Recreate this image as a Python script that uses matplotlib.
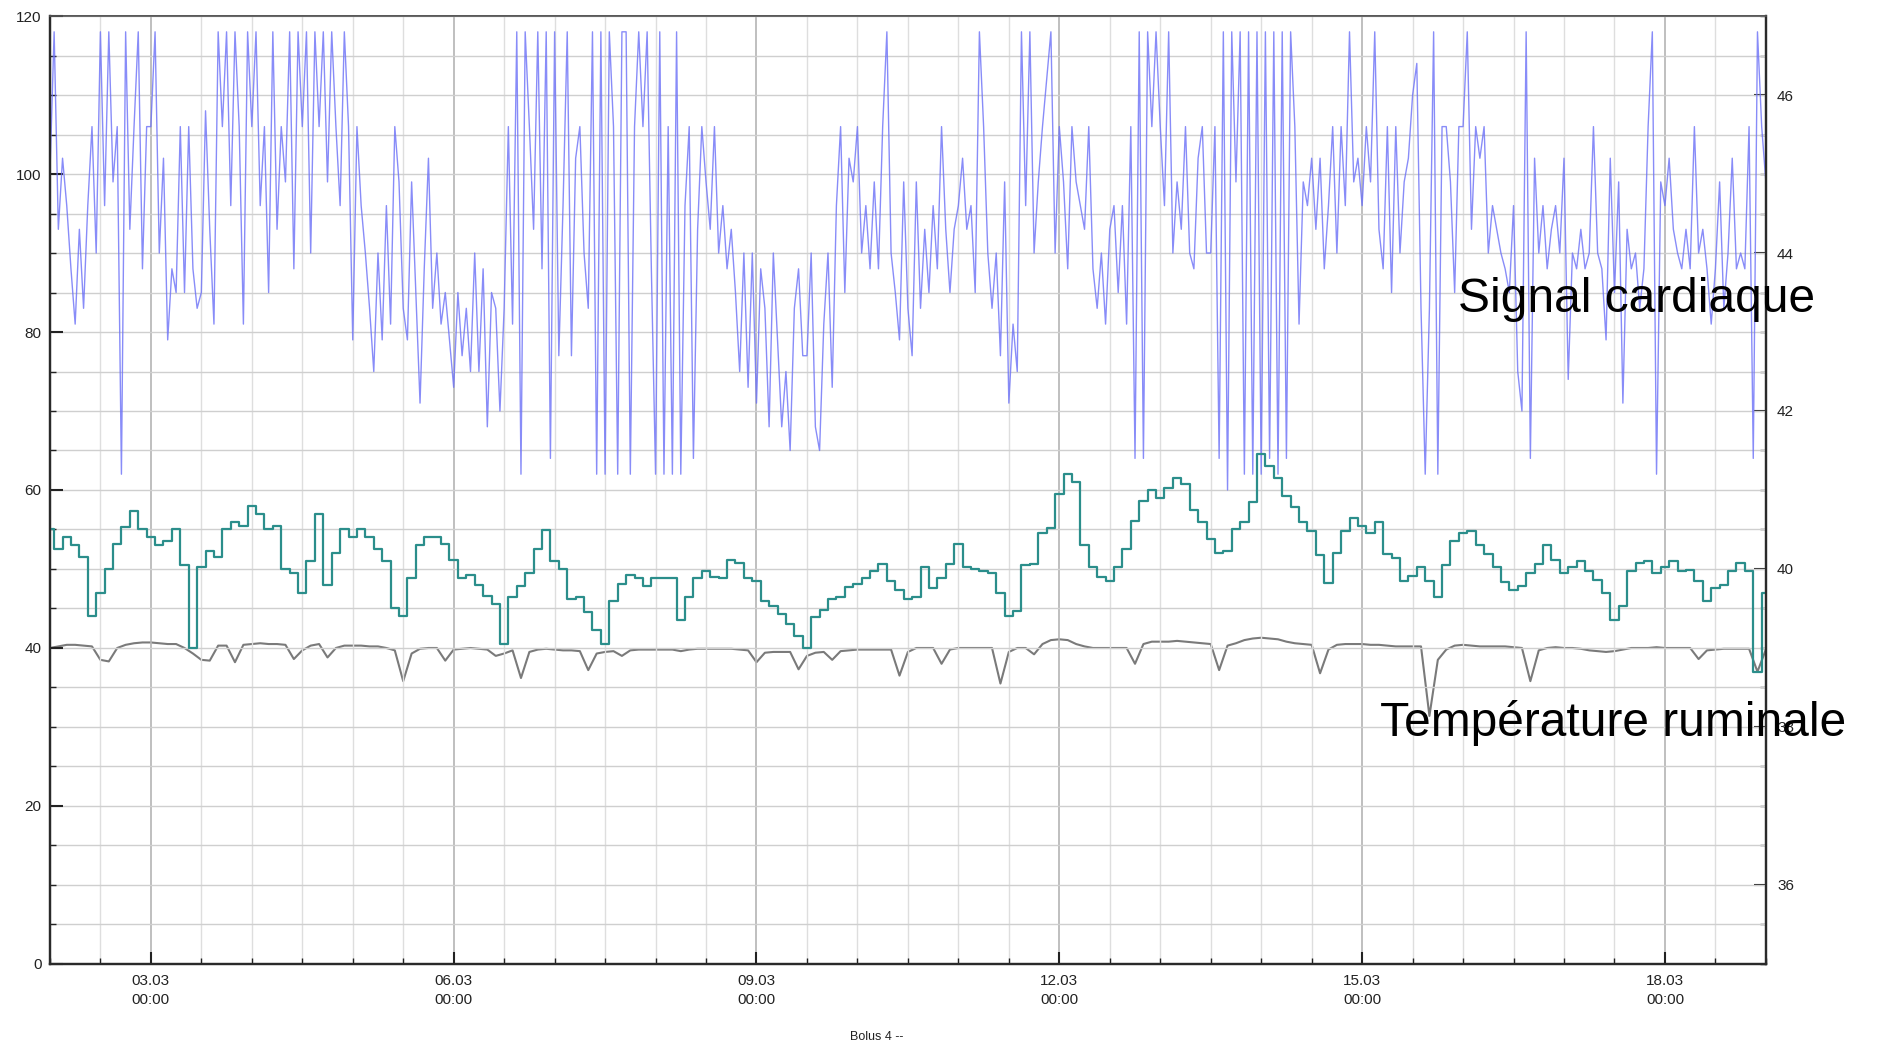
import matplotlib
matplotlib.use("Agg")
import matplotlib.pyplot as plt
import matplotlib.dates as mdates
from matplotlib.ticker import MultipleLocator
import pandas as pd

plt.rcParams["font.family"] = ["Liberation Sans", "DejaVu Sans"]

start = pd.Timestamp("2017-03-02 00:00")
end = pd.Timestamp("2017-03-19 00:00")

# heart signal, one reading per hour (bpm)
heart_rate = [
    100, 118, 93, 102, 96, 88, 81, 93, 83, 96, 106, 90,
    118, 96, 118, 99, 106, 62, 118, 93, 106, 118, 88, 106,
    106, 118, 90, 102, 79, 88, 85, 106, 85, 106, 88, 83,
    85, 108, 93, 81, 118, 106, 118, 96, 118, 106, 81, 118,
    106, 118, 96, 106, 85, 118, 93, 106, 99, 118, 88, 118,
    106, 118, 90, 118, 106, 118, 99, 118, 106, 96, 118, 106,
    79, 106, 96, 90, 83, 75, 90, 79, 96, 81, 106, 99,
    83, 79, 99, 85, 71, 88, 102, 83, 90, 81, 85, 79,
    73, 85, 77, 83, 75, 90, 75, 88, 68, 85, 83, 70,
    83, 106, 81, 118, 62, 118, 106, 93, 118, 88, 118, 64,
    118, 77, 96, 118, 77, 102, 106, 90, 83, 118, 62, 118,
    62, 118, 106, 62, 118, 118, 62, 106, 118, 106, 118, 88,
    62, 118, 62, 106, 62, 118, 62, 96, 106, 64, 93, 106,
    99, 93, 106, 90, 96, 88, 93, 85, 75, 90, 73, 90,
    71, 88, 83, 68, 90, 79, 68, 75, 65, 83, 88, 77,
    77, 90, 68, 65, 81, 90, 73, 96, 106, 85, 102, 99,
    106, 90, 96, 88, 99, 88, 106, 118, 90, 85, 79, 99,
    83, 77, 99, 83, 93, 85, 96, 88, 106, 93, 85, 93,
    96, 102, 93, 96, 85, 118, 106, 90, 83, 90, 77, 99,
    71, 81, 75, 118, 96, 118, 90, 99, 106, 112, 118, 90,
    106, 99, 88, 106, 99, 96, 93, 106, 88, 83, 90, 81,
    93, 96, 85, 96, 81, 106, 64, 118, 64, 118, 106, 118,
    106, 96, 118, 90, 99, 93, 106, 90, 88, 102, 106, 90,
    90, 106, 64, 118, 60, 118, 99, 118, 62, 118, 62, 118,
    62, 118, 64, 118, 62, 118, 64, 118, 106, 81, 99, 96,
    102, 93, 102, 88, 96, 106, 90, 106, 96, 118, 99, 102,
    96, 106, 99, 118, 93, 88, 106, 85, 106, 90, 99, 102,
    110, 114, 83, 62, 83, 118, 62, 106, 106, 99, 85, 106,
    106, 118, 93, 106, 102, 106, 90, 96, 93, 90, 88, 85,
    96, 75, 70, 118, 64, 102, 90, 96, 88, 93, 96, 90,
    102, 74, 90, 88, 93, 88, 90, 106, 90, 88, 79, 102,
    85, 99, 71, 93, 88, 90, 83, 88, 106, 118, 62, 99,
    96, 102, 93, 90, 88, 93, 88, 106, 90, 93, 88, 81,
    88, 99, 83, 90, 102, 88, 90, 88, 106, 64, 118, 106,
    99,
]

# teal series, every 2 hours (left scale)
activity = [
    55, 52.5, 54, 53, 51.5, 44.1, 47, 50, 53.2, 55.3,
    57.4, 55, 54, 53, 53.5, 55, 50.5, 40, 50.2, 52.3,
    51.5, 55, 56, 55.5, 58, 57, 55, 55.5, 50, 49.5,
    47, 51, 57, 48, 52, 55, 54, 55, 54, 52.5,
    51, 45.1, 44.1, 48.9, 53, 54, 54, 53.2, 51.1, 48.9,
    49.2, 48, 46.6, 45.6, 40.5, 46.4, 47.9, 49.5, 52.5, 54.9,
    51, 50, 46.2, 46.4, 44.5, 42.3, 40.5, 46, 48.1, 49.3,
    48.9, 47.8, 48.9, 48.9, 48.9, 43.5, 46.4, 48.9, 49.8, 49,
    48.9, 51.1, 50.8, 48.9, 48.5, 46, 45.3, 44.3, 43, 41.5,
    40, 43.9, 44.8, 46.2, 46.4, 47.7, 48.1, 48.9, 49.8, 50.6,
    48.5, 47.3, 46.2,
    46.4, 50.2, 47.6, 48.9, 50.6, 53.2, 50.2, 50, 49.7, 49.5,
    47, 44, 44.7, 50.5, 50.6, 54.5, 55.2, 59.5, 62, 61,
    53, 50.2, 49, 48.5, 50.2, 52.5, 56.1, 58.6, 60, 59,
    60.3, 61.5, 60.7, 57.5, 56, 53.8, 52, 52.3, 55, 56,
    58.5, 64.5, 63, 61.5, 59.2, 57.8, 56, 54.8, 51.8, 48.2,
    52, 54.8, 56.5, 55.5, 54.6, 55.9, 51.9, 51.4, 48.5, 49.1,
    50.2, 48.5, 46.4, 50.5, 53.5, 54.5, 54.8, 53, 51.9, 50.2,
    48.3, 47.4, 47.9, 49.5, 50.6, 53.1, 51.2, 49.5, 50.2, 51,
    49.7, 48.6, 47, 43.6, 45.3, 49.7, 50.8, 51, 49.5, 50.2,
    51, 49.7, 49.9, 48.5, 46, 47.6, 48, 49.7, 50.8, 49.7,
    37, 47,
]

# rumen temperature, every 2 hours (degrees C, right scale)
rumen_temp = [
    39.00, 39.02, 39.04, 39.04, 39.03, 39.02, 38.85, 38.83, 39.00, 39.04,
    39.06, 39.07, 39.07, 39.06, 39.05, 39.05, 39.00, 38.93, 38.85, 38.84,
    39.03, 39.03, 38.82, 39.04, 39.05, 39.06, 39.05, 39.05, 39.04, 38.86,
    38.97, 39.03, 39.05, 38.88, 39.00, 39.03, 39.03, 39.03, 39.02, 39.02,
    39.00, 38.97, 38.58, 38.93, 38.99, 39.00, 39.00, 38.84, 38.98, 38.99,
    39.00, 38.99, 38.98, 38.90, 38.93, 38.97, 38.62, 38.95, 38.98, 38.99,
    38.98, 38.97, 38.97, 38.96, 38.72, 38.93, 38.95, 38.96, 38.90, 38.97,
    38.98, 38.98, 38.98, 38.98, 38.98, 38.96, 38.98, 38.99, 38.99, 38.99,
    38.99, 38.99, 38.98, 38.97, 38.82, 38.94, 38.95, 38.95, 38.95, 38.73,
    38.90, 38.94, 38.95, 38.85, 38.96, 38.97, 38.98, 38.98, 38.98, 38.98,
    38.98, 38.65, 38.95,
    39.00, 39.00, 39.00, 38.80, 38.98, 39.00, 39.00, 39.00, 39.00, 39.00,
    38.55, 38.95, 39.00, 39.00, 38.92, 39.05, 39.10, 39.11, 39.10, 39.05,
    39.02, 39.00, 39.00, 39.00, 39.00, 39.00, 38.80, 39.05, 39.08, 39.08,
    39.08, 39.09, 39.08, 39.07, 39.06, 39.05, 38.72, 39.03, 39.06, 39.10,
    39.12, 39.13, 39.12, 39.11, 39.08, 39.06, 39.05, 39.04, 38.68, 38.98,
    39.04, 39.05, 39.05, 39.05, 39.04, 39.04, 39.03, 39.02, 39.02, 39.02,
    39.02, 38.14, 38.85, 38.98, 39.03, 39.04, 39.03, 39.02, 39.02, 39.02,
    39.02, 39.01, 39.00, 38.58, 38.97, 39.00, 39.01, 39.00, 39.00, 38.99,
    38.97, 38.96, 38.95, 38.96, 38.98, 39.00, 39.00, 39.00, 39.01, 39.00,
    39.00, 39.00, 39.00, 38.86, 38.97, 38.98, 38.99, 38.99, 38.99, 38.99,
    38.70, 38.98,
]

hr_times = pd.date_range(start, periods=len(heart_rate), freq="h")
act_times = pd.date_range(start, periods=len(activity), freq="2h")
temp_times = pd.date_range(start, periods=len(rumen_temp), freq="2h")

fig = plt.figure(figsize=(18.77, 10.47), dpi=100)
ax = fig.add_axes([0.0266, 0.0793, 0.9142, 0.9054])
ax2 = ax.twinx()
ax.set_zorder(ax2.get_zorder() + 1)
ax.patch.set_visible(False)

# temperature on the right-hand scale, drawn underneath the other two
ax2.plot(temp_times, rumen_temp, color="#7a7a7a", lw=1.5)
ax.plot(hr_times, heart_rate, color="#6b70f7", lw=1.0, alpha=0.8)
ax.plot(act_times, activity, color="#2b8e8b", lw=1.6, drawstyle="steps-mid")

ax.set_xlim(start, end)
ax.set_ylim(0, 120)
ax2.set_ylim(35, 47)

ax.xaxis.set_major_locator(mdates.DayLocator(bymonthday=[3, 6, 9, 12, 15, 18]))
ax.xaxis.set_minor_locator(mdates.HourLocator(byhour=[0, 12]))
ax.xaxis.set_major_formatter(mdates.DateFormatter("%d.%m\n%H:%M"))
ax.yaxis.set_major_locator(MultipleLocator(20))
ax.yaxis.set_minor_locator(MultipleLocator(5))
ax2.yaxis.set_major_locator(MultipleLocator(2))
ax2.yaxis.set_minor_locator(MultipleLocator(0.5))
ax2.set_yticks([36, 38, 40, 42, 44, 46])

ax.grid(True, which="major", axis="x", color="#b4b4b4", lw=1.2)
ax.grid(True, which="minor", axis="x", color="#dedede", lw=1.0)
ax.grid(True, which="both", axis="y", color="#cfcfcf", lw=1.0)
ax.set_axisbelow(True)

for a in (ax, ax2):
    a.tick_params(which="major", direction="in", length=9, width=1.5, labelsize=11, colors="#222")
    a.tick_params(which="minor", direction="in", length=4, width=1.0, colors="#222")
ax.tick_params(axis="x", pad=7)
ax.tick_params(axis="y", pad=6)
ax2.tick_params(axis="y", pad=8)
for lbl in ax.get_xticklabels():
    lbl.set_linespacing(1.5)

for a in (ax, ax2):
    for side in ("left", "right", "bottom"):
        a.spines[side].set_color("#2a2a2a")
        a.spines[side].set_linewidth(1.6)
    a.spines["top"].set_color("#555")
    a.spines["top"].set_linewidth(1.2)

fig.text(0.777, 0.714, "Signal cardiaque", fontsize=34.5, ha="left", va="center", color="black")
fig.text(0.735, 0.309, "Température ruminale", fontsize=34.5, ha="left", va="center", color="black")
fig.text(0.467, 0.01, "Bolus 4 --", fontsize=9, ha="center", va="center", color="#222")

fig.savefig("out.png", dpi=100)
